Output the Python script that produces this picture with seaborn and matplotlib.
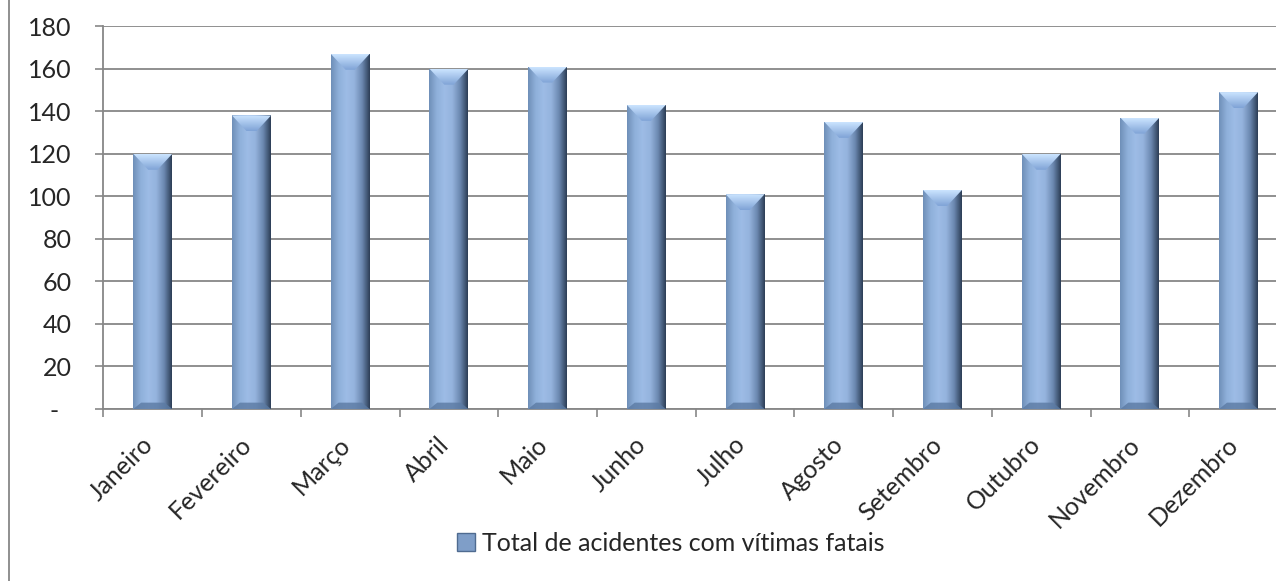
import numpy as np
import pandas as pd
import seaborn as sns
import matplotlib.pyplot as plt
from matplotlib.colors import LinearSegmentedColormap
from matplotlib.patches import Polygon, Rectangle
from matplotlib.transforms import ScaledTranslation

months = ['Janeiro', 'Fevereiro', 'Março', 'Abril', 'Maio', 'Junho',
          'Julho', 'Agosto', 'Setembro', 'Outubro', 'Novembro', 'Dezembro']
totals = [120, 138, 167, 160, 161, 143, 101, 135, 103, 120, 137, 149]
yticks = [0, 20, 40, 60, 80, 100, 120, 140, 160, 180]
ytick_labels = ['-  ', '20', '40', '60', '80', '100', '120', '140', '160', '180']
series_name = 'Total de acidentes com vítimas fatais'

df = pd.DataFrame({'Mes': months, 'Total': totals})

sns.set_style('white')
plt.rcParams['font.family'] = ['Lato', 'DejaVu Sans']

fig = plt.figure(figsize=(12.76, 5.81), dpi=100)
ax = fig.add_axes([0.0811, 0.296, 0.9283, 0.659])

sns.barplot(data=df, x='Mes', y='Total', color='#95b3d7', width=0.395,
            ax=ax, zorder=2, linewidth=0)

# bevel look: horizontal gradient inside each bar plus a lighter top cap
body = LinearSegmentedColormap.from_list(
    'body', ['#6f8fb8', '#8fb0da', '#9dbce6', '#95b3dd', '#6b88b0', '#2c3d55'])
cap = LinearSegmentedColormap.from_list('cap', ['#7fa3d6', '#cbe4ff'])
grad = np.linspace(0, 1, 256).reshape(1, -1)
vgrad = np.linspace(0, 1, 64).reshape(-1, 1)
for p in ax.patches:
    x0, y0 = p.get_x(), p.get_y()
    w, h = p.get_width(), p.get_height()
    im = ax.imshow(grad, cmap=body, aspect='auto', extent=[x0, x0 + w, y0, y0 + h],
                   zorder=3)
    im.set_clip_path(p)
    ch = 7.5
    tri = Polygon([[x0, y0 + h], [x0 + w, y0 + h], [x0 + w * 0.62, y0 + h - ch],
                   [x0 + w * 0.38, y0 + h - ch]], closed=True, facecolor='none',
                  edgecolor='none', zorder=4)
    ax.add_patch(tri)
    im2 = ax.imshow(vgrad, cmap=cap, aspect='auto', origin='lower',
                    extent=[x0, x0 + w, y0 + h - ch, y0 + h], zorder=4)
    im2.set_clip_path(tri)
    bot = Polygon([[x0, y0], [x0 + w, y0], [x0 + w * 0.8, y0 + 3], [x0 + w * 0.2, y0 + 3]],
                  closed=True, facecolor='#5b7aa3', edgecolor='none', alpha=0.8, zorder=4)
    ax.add_patch(bot)

ax.set_xlim(-0.5, len(months) - 0.5)
ax.set_ylim(0, 180)
ax.set_yticks(yticks)
ax.set_yticklabels(ytick_labels, fontsize=18)
ax.set_xticks(range(len(months)))
ax.set_xticklabels(months, rotation=45, ha='right', rotation_mode='anchor', fontsize=18)
ax.tick_params(axis='x', length=0, pad=17)
ax.tick_params(axis='y', length=6, width=1.2, color='#878787', left=True, pad=17)
for lbl in ax.get_xticklabels():
    lbl.set_transform(lbl.get_transform() + ScaledTranslation(-12 / 100, 0, fig.dpi_scale_trans))
# category boundary ticks on x axis
ax.set_xticks(np.arange(-0.5, len(months)), minor=True)
ax.tick_params(axis='x', which='minor', length=6, width=1.2, color='#878787', bottom=True)

ax.set_xlabel('')
ax.set_ylabel('')
ax.yaxis.grid(True, color='#878787', linewidth=1.3, zorder=0)
ax.set_axisbelow(True)
for s in ['top', 'right']:
    ax.spines[s].set_visible(False)
for s in ['left', 'bottom']:
    ax.spines[s].set_color('#878787')
    ax.spines[s].set_linewidth(1.3)

# legend
handle = Rectangle((0, 0), 1, 1, facecolor='#7f9ec8', edgecolor='#4f6b90')
leg = fig.legend([handle], [series_name], loc='center', frameon=False, fontsize=18,
                 handlelength=0.7, handleheight=0.7, handletextpad=0.3)
leg.set_bbox_to_anchor((0.526, 0.065), transform=fig.transFigure)

# chart area border
fig.add_artist(Rectangle((0.007, -0.01), 1.1, 1.1, transform=fig.transFigure,
                         fill=False, edgecolor='#878787', linewidth=1.3))

fig.savefig('out.png', dpi=100)
